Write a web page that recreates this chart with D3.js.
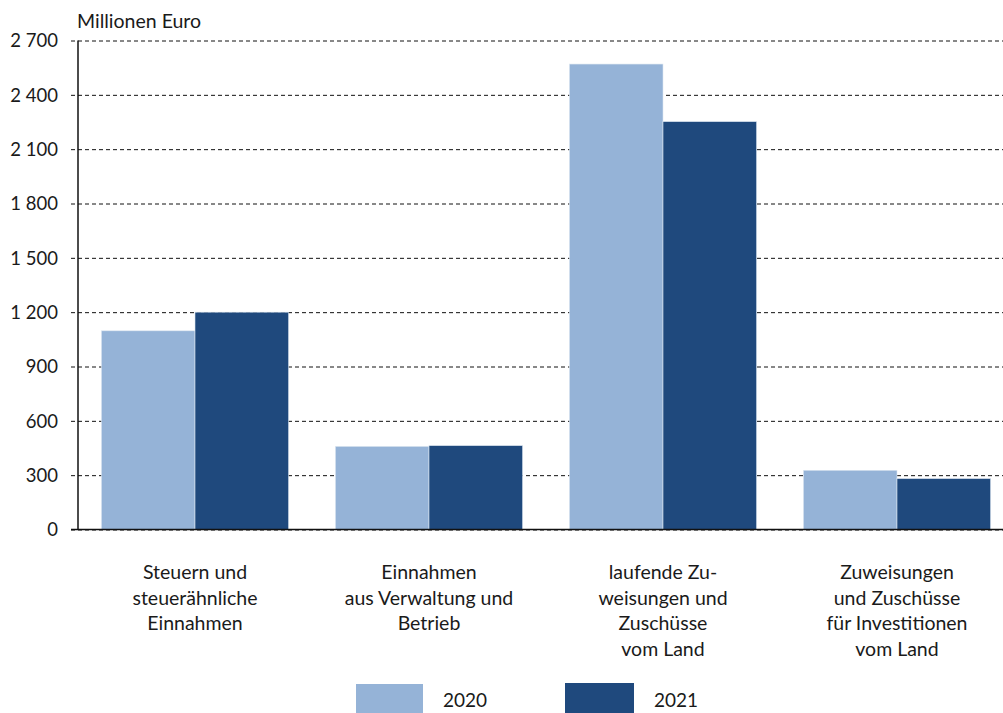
<!DOCTYPE html>
<html lang="de">
<head>
	<meta charset="utf-8"/>
	<title>Einnahmen 2020 und 2021</title>
	<script src="https://d3js.org/d3.v7.min.js"></script>
	<style>
		body { margin: 0; background: #fff; }
		text { font-family: Lato, "Noto Sans", sans-serif; fill: #1a1a1a; }
	</style>
</head>
<body>
<script>
// data
var categories = [
	["Steuern und", "steuerähnliche", "Einnahmen"],
	["Einnahmen", "aus Verwaltung und", "Betrieb"],
	["laufende Zu-", "weisungen und", "Zuschüsse", "vom Land"],
	["Zuweisungen", "und Zuschüsse", "für Investitionen", "vom Land"]
];
var years = ["2020", "2021"];
var values2020 = [1097, 459, 2570, 327];
var values2021 = [1200, 463, 2252, 281];
var yTicks = [0, 300, 600, 900, 1200, 1500, 1800, 2100, 2400, 2700];
var colours = ["#95b3d7", "#1f497d"];

var w = 1003;
var h = 713;

var svg = d3.select("body")
			.append("svg")
			.attr("width", w)
			.attr("height", h);

var xScale = d3.scaleBand()
			.domain(d3.range(categories.length))
			.range([78, 1014])
			.paddingInner(0.2)
			.paddingOuter(0.1);

var yScale = d3.scaleLinear()
			.domain([0, 2700])
			.range([529.5, 40.5]);

var xInner = d3.scaleBand()
			.domain(years)
			.range([0, xScale.bandwidth()]);

// dashed grid lines with ticks left of the axis
var yAxis = d3.axisLeft(yScale)
			.tickValues(yTicks)
			.tickSize(-(w - 71))
			.tickPadding(13)
			.tickFormat(function(d) { return d3.format(",")(d).replace(",", " "); });

var gy = svg.append("g")
			.attr("transform", "translate(71,0)")
			.call(yAxis);
gy.select(".domain").remove();
gy.selectAll(".tick line")
	.attr("stroke", "#111")
	.attr("stroke-dasharray", "4,3");
gy.selectAll(".tick text")
	.attr("font-size", "18.5px")
	.attr("font-family", "Lato, sans-serif")
	.attr("fill", "#1a1a1a")
	.attr("dy", "0.35em");

// bars
var groups = svg.selectAll(".grp")
			.data(categories)
			.enter()
			.append("g")
			.attr("class", "grp")
			.attr("transform", function(d, i) { return "translate(" + xScale(i) + ",0)"; });

groups.selectAll("rect")
	.data(function(d, i) { return [values2020[i], values2021[i]]; })
	.enter()
	.append("rect")
	.attr("x", function(d, j) { return xInner(years[j]); })
	.attr("y", function(d) { return yScale(d); })
	.attr("width", xInner.bandwidth())
	.attr("height", function(d) { return yScale(0) - yScale(d); })
	.attr("fill", function(d, j) { return colours[j]; })
	.attr("stroke", "#dde6f0")
	.attr("stroke-width", 0.6);

// axis lines
svg.append("line")
	.attr("x1", 71).attr("x2", w)
	.attr("y1", yScale(0)).attr("y2", yScale(0))
	.attr("stroke", "#111").attr("stroke-width", 1.5);
svg.append("line")
	.attr("x1", 78).attr("x2", 78)
	.attr("y1", yScale(2700)).attr("y2", yScale(0))
	.attr("stroke", "#111").attr("stroke-width", 1.5);

// unit label
svg.append("text")
	.attr("x", 77)
	.attr("y", 28)
	.attr("font-size", "19.5px")
	.text("Millionen Euro");

// category labels
groups.append("text")
	.attr("text-anchor", "middle")
	.attr("font-size", "19.5px")
	.selectAll("tspan")
	.data(function(d) { return d; })
	.enter()
	.append("tspan")
	.attr("x", xScale.bandwidth() / 2)
	.attr("y", function(d, k) { return 579 + k * 25.7; })
	.text(function(d) { return d; });

// legend
var legendX = [356, 565];
var legendText = [443, 654];
var leg = svg.selectAll(".leg")
			.data(years)
			.enter()
			.append("g")
			.attr("class", "leg");
leg.append("rect")
	.attr("x", function(d, i) { return legendX[i]; })
	.attr("y", function(d, i) { return 684 - i; })
	.attr("width", function(d, i) { return i ? 69 : 67; })
	.attr("height", 30)
	.attr("fill", function(d, i) { return colours[i]; });
leg.append("text")
	.attr("x", function(d, i) { return legendText[i]; })
	.attr("y", 707)
	.attr("font-size", "19px")
	.text(function(d) { return d; });
</script>
</body>
</html>
